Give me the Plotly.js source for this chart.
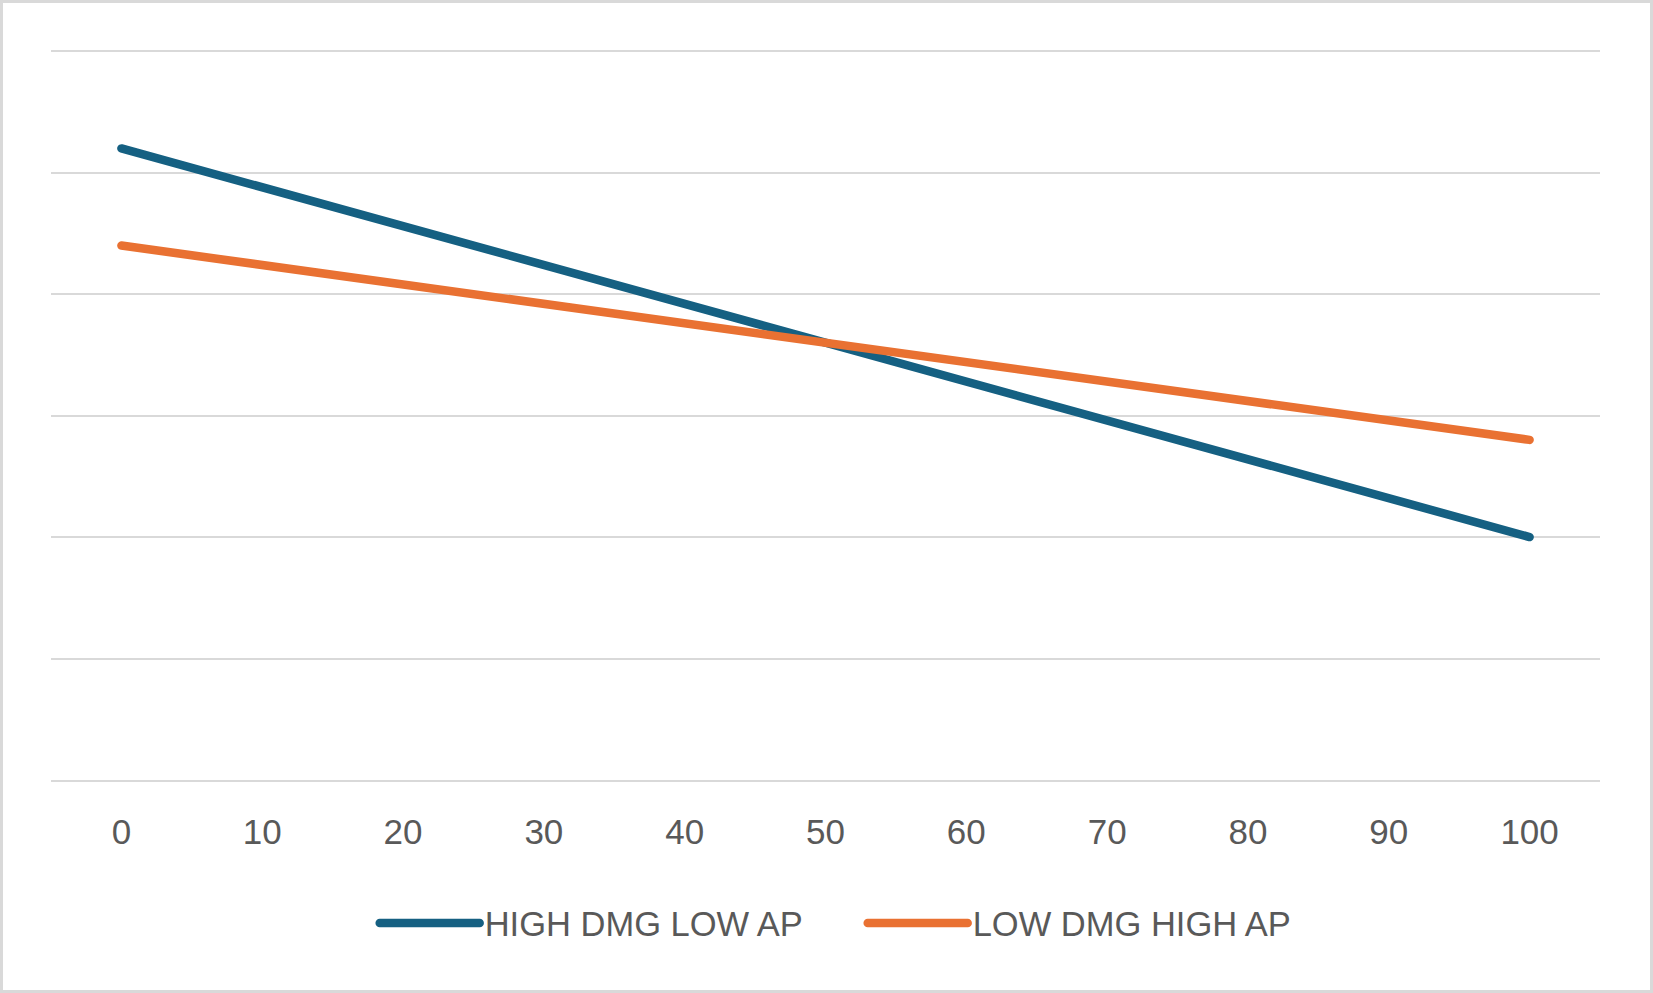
<!DOCTYPE html>
<html>
<head>
<meta charset="utf-8">
<script src="https://cdn.plot.ly/plotly-3.0.1.min.js"></script>
<style>
  html, body { margin: 0; padding: 0; background: #ffffff; }
  #wrap { position: relative; width: 1653px; height: 993px; }
  #chart { position: absolute; left: 0; top: 0; width: 1653px; height: 993px; }
  #frame { position: absolute; left: 0; top: 0; width: 1653px; height: 993px; box-sizing: border-box; border: 3px solid #d9d9d9; pointer-events: none; }
  .scatterlayer path.js-line { stroke-linecap: round; stroke-linejoin: round; }
  .legend .legendlines path { stroke-linecap: round; }
</style>
</head>
<body>
<div id="wrap">
  <div id="chart"></div>
  <div id="frame"></div>
</div>
<script>
const xValues = [0, 10, 20, 30, 40, 50, 60, 70, 80, 90, 100];
const highDmgLowAp = [52, 48.8, 45.6, 42.4, 39.2, 36, 32.8, 29.6, 26.4, 23.2, 20];
const lowDmgHighAp = [44, 42.4, 40.8, 39.2, 37.6, 36, 34.4, 32.8, 31.2, 29.6, 28];
const seriesNames = ["HIGH DMG LOW AP", "LOW DMG HIGH AP"];
const xTickLabels = ["0", "10", "20", "30", "40", "50", "60", "70", "80", "90", "100"];

const fontFamily = "Liberation Sans, Arial, sans-serif";
const textColor = "#595959";

const traces = [
  { x: xValues, y: highDmgLowAp, name: seriesNames[0], type: "scatter", mode: "lines",
    line: { color: "#156082", width: 8.5 }, hoverinfo: "x+y+name" },
  { x: xValues, y: lowDmgHighAp, name: seriesNames[1], type: "scatter", mode: "lines",
    line: { color: "#E97132", width: 8.5 }, hoverinfo: "x+y+name" }
];

const layout = {
  width: 1653, height: 993,
  margin: { l: 51, r: 53, t: 50, b: 213 },
  paper_bgcolor: "#ffffff", plot_bgcolor: "#ffffff",
  font: { family: fontFamily, color: textColor, size: 34 },
  showlegend: true,
  legend: {
    orientation: "h", x: 0.524, xanchor: "center", y: -0.196, yanchor: "middle",
    font: { family: fontFamily, color: textColor, size: 34.5 },
    itemwidth: 100, entrywidth: 373, entrywidthmode: "pixels", bgcolor: "rgba(0,0,0,0)"
  },
  xaxis: {
    range: [-5, 105], tickvals: xValues, ticktext: xTickLabels,
    showgrid: false, zeroline: false, showline: true, linecolor: "#d9d9d9", linewidth: 2,
    ticks: "", ticklabelstandoff: 20,
    tickfont: { family: fontFamily, color: textColor, size: 35 }
  },
  yaxis: {
    range: [0, 60.1], tickvals: [0, 10, 20, 30, 40, 50, 60], showticklabels: false,
    showgrid: true, gridcolor: "#d9d9d9", gridwidth: 2, zeroline: false, showline: false, ticks: ""
  }
};

Plotly.newPlot("chart", traces, layout, { displayModeBar: false });
</script>
</body>
</html>
